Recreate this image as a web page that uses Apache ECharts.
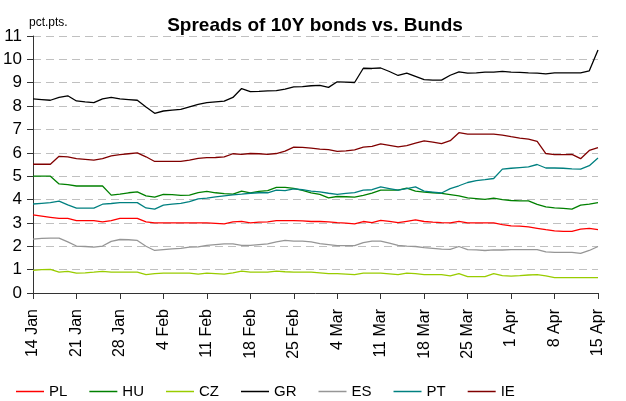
<!DOCTYPE html>
<html>
<head>
<meta charset="utf-8">
<script src="https://cdn.jsdelivr.net/npm/echarts@6/dist/echarts.min.js"></script>
<style>
  html, body { margin: 0; padding: 0; background: #fff; }
  #chart { width: 626px; height: 401px; }
</style>
</head>
<body>
<div id="chart"></div>
<script>
// business days 14 Jan - 15 Apr
var days = [
  '14 Jan', '15 Jan', '16 Jan', '17 Jan', '18 Jan', '21 Jan', '22 Jan', '23 Jan', '24 Jan', '25 Jan',
  '28 Jan', '29 Jan', '30 Jan', '31 Jan', '1 Feb', '4 Feb', '5 Feb', '6 Feb', '7 Feb', '8 Feb',
  '11 Feb', '12 Feb', '13 Feb', '14 Feb', '15 Feb', '18 Feb', '19 Feb', '20 Feb', '21 Feb', '22 Feb',
  '25 Feb', '26 Feb', '27 Feb', '28 Feb', '1 Mar', '4 Mar', '5 Mar', '6 Mar', '7 Mar', '8 Mar',
  '11 Mar', '12 Mar', '13 Mar', '14 Mar', '15 Mar', '18 Mar', '19 Mar', '20 Mar', '21 Mar', '22 Mar',
  '25 Mar', '26 Mar', '27 Mar', '28 Mar', '29 Mar', '1 Apr', '2 Apr', '3 Apr', '4 Apr', '5 Apr',
  '8 Apr', '9 Apr', '10 Apr', '11 Apr', '12 Apr', '15 Apr'
]

var pl = [3.34, 3.29, 3.24, 3.19, 3.19, 3.10, 3.10, 3.10, 3.04, 3.10,
  3.19, 3.19, 3.19, 3.04, 3.0, 3.0, 3.0, 3.0, 3.0, 3.0,
  3.0, 2.98, 2.96, 3.04, 3.07, 3.0, 3.03, 3.04, 3.10, 3.10,
  3.10, 3.09, 3.06, 3.06, 3.04, 3.01, 2.99, 2.96, 3.06, 3.01,
  3.11, 3.07, 3.01, 3.07, 3.13, 3.06, 3.03, 3.01, 3.0, 3.07,
  3.0, 3.0, 3.0, 3.0, 2.93, 2.87, 2.86, 2.83, 2.77, 2.71,
  2.66, 2.64, 2.64, 2.73, 2.77, 2.71]
var hu = [5.0, 5.0, 5.0, 4.67, 4.64, 4.58, 4.58, 4.58, 4.58, 4.19,
  4.23, 4.29, 4.33, 4.16, 4.10, 4.22, 4.21, 4.18, 4.19, 4.30,
  4.35, 4.29, 4.25, 4.23, 4.36, 4.29, 4.35, 4.38, 4.52, 4.52,
  4.48, 4.39, 4.29, 4.22, 4.07, 4.13, 4.12, 4.10, 4.18, 4.27,
  4.40, 4.40, 4.40, 4.49, 4.36, 4.32, 4.29, 4.26, 4.21, 4.16,
  4.07, 4.04, 4.01, 4.06, 4.0, 3.96, 3.94, 3.94, 3.79, 3.69,
  3.64, 3.62, 3.59, 3.76, 3.80, 3.87]
var cz = [0.97, 1.0, 1.01, 0.89, 0.93, 0.85, 0.86, 0.89, 0.93, 0.89,
  0.89, 0.89, 0.89, 0.79, 0.83, 0.85, 0.85, 0.85, 0.85, 0.81,
  0.85, 0.83, 0.81, 0.86, 0.94, 0.89, 0.89, 0.89, 0.94, 0.91,
  0.89, 0.89, 0.89, 0.86, 0.83, 0.83, 0.81, 0.79, 0.85, 0.85,
  0.85, 0.82, 0.79, 0.85, 0.83, 0.79, 0.79, 0.79, 0.73, 0.83,
  0.70, 0.70, 0.70, 0.83, 0.74, 0.72, 0.74, 0.77, 0.79, 0.73,
  0.66, 0.66, 0.66, 0.66, 0.66, 0.66]
var gr = [8.31, 8.28, 8.25, 8.37, 8.44, 8.22, 8.18, 8.15, 8.31, 8.37,
  8.31, 8.28, 8.25, 7.96, 7.69, 7.79, 7.83, 7.86, 7.97, 8.07,
  8.15, 8.18, 8.21, 8.37, 8.75, 8.62, 8.63, 8.65, 8.66, 8.73,
  8.82, 8.83, 8.87, 8.89, 8.80, 9.04, 9.03, 9.01, 9.62, 9.61,
  9.63, 9.48, 9.31, 9.41, 9.27, 9.13, 9.11, 9.11, 9.32, 9.46,
  9.41, 9.42, 9.45, 9.45, 9.49, 9.45, 9.44, 9.42, 9.41, 9.38,
  9.42, 9.42, 9.42, 9.42, 9.51, 10.4]
var es = [2.31, 2.34, 2.35, 2.35, 2.19, 2.01, 1.99, 1.96, 2.01, 2.21,
  2.29, 2.28, 2.25, 2.0, 1.82, 1.86, 1.89, 1.91, 1.96, 1.97,
  2.04, 2.07, 2.10, 2.10, 2.04, 2.04, 2.07, 2.10, 2.19, 2.25,
  2.22, 2.22, 2.19, 2.11, 2.07, 2.03, 2.03, 2.03, 2.16, 2.22,
  2.22, 2.13, 2.04, 2.01, 1.99, 1.94, 1.91, 1.88, 1.87, 1.99,
  1.86, 1.85, 1.82, 1.85, 1.84, 1.86, 1.86, 1.86, 1.86, 1.76,
  1.74, 1.74, 1.74, 1.70, 1.82, 1.99]
var pt = [3.81, 3.84, 3.87, 3.93, 3.77, 3.63, 3.63, 3.63, 3.80, 3.83,
  3.87, 3.87, 3.87, 3.64, 3.59, 3.76, 3.80, 3.84, 3.91, 4.03,
  4.06, 4.11, 4.16, 4.20, 4.23, 4.27, 4.29, 4.29, 4.40, 4.38,
  4.46, 4.42, 4.36, 4.33, 4.27, 4.22, 4.26, 4.30, 4.40, 4.42,
  4.54, 4.47, 4.40, 4.47, 4.54, 4.36, 4.32, 4.28, 4.47, 4.59,
  4.73, 4.81, 4.85, 4.90, 5.30, 5.34, 5.37, 5.40, 5.50, 5.35,
  5.35, 5.34, 5.31, 5.30, 5.45, 5.78]
var ie = [5.51, 5.51, 5.51, 5.85, 5.83, 5.75, 5.72, 5.69, 5.75, 5.87,
  5.92, 5.96, 6.0, 5.83, 5.63, 5.63, 5.63, 5.63, 5.69, 5.76,
  5.79, 5.80, 5.83, 5.96, 5.93, 5.97, 5.96, 5.93, 5.97, 6.07,
  6.24, 6.23, 6.20, 6.16, 6.14, 6.06, 6.08, 6.13, 6.24, 6.28,
  6.38, 6.32, 6.25, 6.31, 6.41, 6.51, 6.46, 6.39, 6.52, 6.86,
  6.80, 6.80, 6.80, 6.80, 6.76, 6.69, 6.63, 6.59, 6.49, 5.97,
  5.92, 5.92, 5.93, 5.75, 6.1, 6.22]

var names = ['PL', 'HU', 'CZ', 'GR', 'ES', 'PT', 'IE']
var values = [pl, hu, cz, gr, es, pt, ie]
var colors = ['#ff0000', '#008000', '#99cc00', '#000000', '#969696', '#008080', '#800000']

var chart = echarts.init(document.getElementById('chart'))

var series = names.map(function (n, k) {
  return {
    name: n,
    type: 'line',
    data: values[k],
    showSymbol: false,
    symbol: 'none',
    lineStyle: { width: 1.3, color: colors[k] },
    itemStyle: { color: colors[k] }
  }
})

var option = {
  animation: false,
  color: colors,
  textStyle: { fontFamily: 'Liberation Sans, Arial, sans-serif' },
  title: [
    {
      text: 'Spreads of 10Y bonds vs. Bunds',
      left: 310,
      textAlign: 'center',
      top: 11,
      textStyle: { fontSize: 19, fontWeight: 'bold', color: '#000' }
    },
    {
      text: 'pct.pts.',
      left: 24,
      top: 12,
      textStyle: { fontSize: 12, fontWeight: 'normal', color: '#000' }
    }
  ],
  legend: {
    data: names,
    left: 16,
    top: 384,
    padding: 0,
    icon: 'rect',
    itemWidth: 28,
    itemHeight: 1.5,
    itemGap: 22,
    textStyle: { fontSize: 15, color: '#000', fontFamily: 'Liberation Sans Narrow, Liberation Sans, sans-serif' }
  },
  grid: { left: 33, right: 28, top: 36, bottom: 108 },
  xAxis: {
    type: 'category',
    data: days,
    boundaryGap: false,
    axisLine: { lineStyle: { color: '#333' } },
    axisTick: { interval: 4, length: 6, lineStyle: { color: '#333' } },
    axisLabel: { interval: 4, rotate: 90, fontSize: 16, color: '#000', margin: 16 }
  },
  yAxis: {
    type: 'value',
    min: 0,
    max: 11,
    interval: 1,
    axisLine: { show: true, lineStyle: { color: '#333' } },
    axisTick: { show: true, length: 6, lineStyle: { color: '#333' } },
    axisLabel: { fontSize: 17, color: '#000', margin: 11 },
    splitLine: { lineStyle: { color: '#c0c0c0', type: [8, 5] } }
  },
  series: series
}
chart.setOption(option)
</script>
</body>
</html>
